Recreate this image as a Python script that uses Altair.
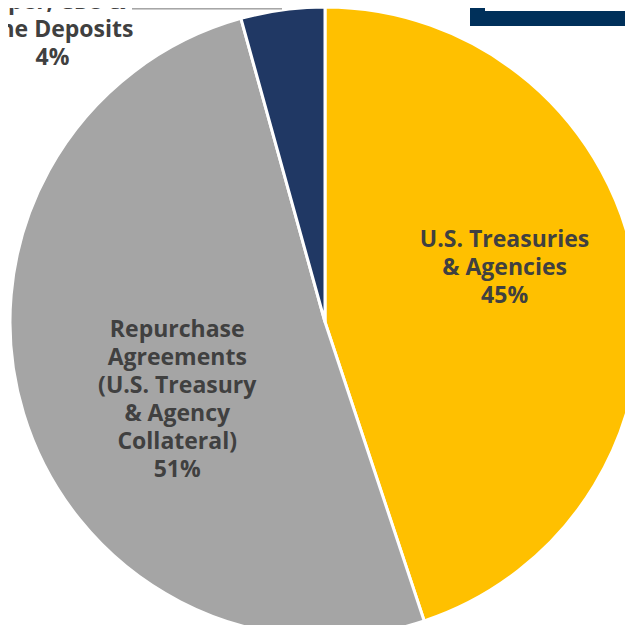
import altair as alt
import pandas as pd

categories = [
    "U.S. Treasuries & Agencies",
    "Repurchase Agreements (U.S. Treasury & Agency Collateral)",
    "Commercial Paper, CDs & Time Deposits",
]
values = [44.9, 50.8, 4.3]
labels = [
    "U.S. Treasuries\n& Agencies\n45%",
    "Repurchase\nAgreements\n(U.S. Treasury\n& Agency\nCollateral)\n51%",
    "Commercial\nPaper, CDs &\nTime Deposits\n4%",
]
colors = ["#FFC000", "#A5A5A5", "#203864"]
order = [1, 2, 3]

df = pd.DataFrame({"category": categories, "value": values, "label": labels, "order": order})

CX, CY, R = 317, 314, 315
FONT = "Open Sans"
TXT = "#404040"

base = alt.Chart(df).encode(
    theta=alt.Theta("value:Q", stack=True),
    order=alt.Order("order:Q"),
    x=alt.value(CX),
    y=alt.value(CY),
)

pie = base.mark_arc(radius=R, stroke="white", strokeWidth=3).encode(
    color=alt.Color("category:N", scale=alt.Scale(domain=categories, range=colors), legend=None)
)

def label_layer(i, r, dx, dy):
    return base.mark_text(
        radius=r, dx=dx, dy=dy, lineBreak="\n", lineHeight=28,
        font=FONT, fontSize=23, fontWeight="bold", color=TXT,
        align="center", baseline="middle",
    ).encode(
        text=alt.condition(alt.datum.category == categories[i], "label:N", alt.value(""))
    )

t_yellow = label_layer(0, 188, -6, -52)
t_gray = label_layer(1, 167, 12, -41)
t_navy = label_layer(2, 330, -228, -21)

leader = alt.Chart(df).mark_rule(color="#A6A6A6", strokeWidth=1.5).encode(
    x=alt.value(124), x2=alt.value(274), y=alt.value(0.5)
)

box = alt.Chart(df).mark_rect(
    fillOpacity=0, stroke="#00305A", strokeWidth=15
).encode(
    x=alt.value(469.5), x2=alt.value(900), y=alt.value(-200), y2=alt.value(10.5)
)

chart = alt.layer(pie, t_yellow, t_gray, t_navy, leader, box).properties(
    width=617, height=617, padding=0,
    autosize=alt.AutoSizeParams(type="none"),
).configure_view(stroke=None)

chart.save("out.html", embed_options={"renderer": "svg", "actions": False})
